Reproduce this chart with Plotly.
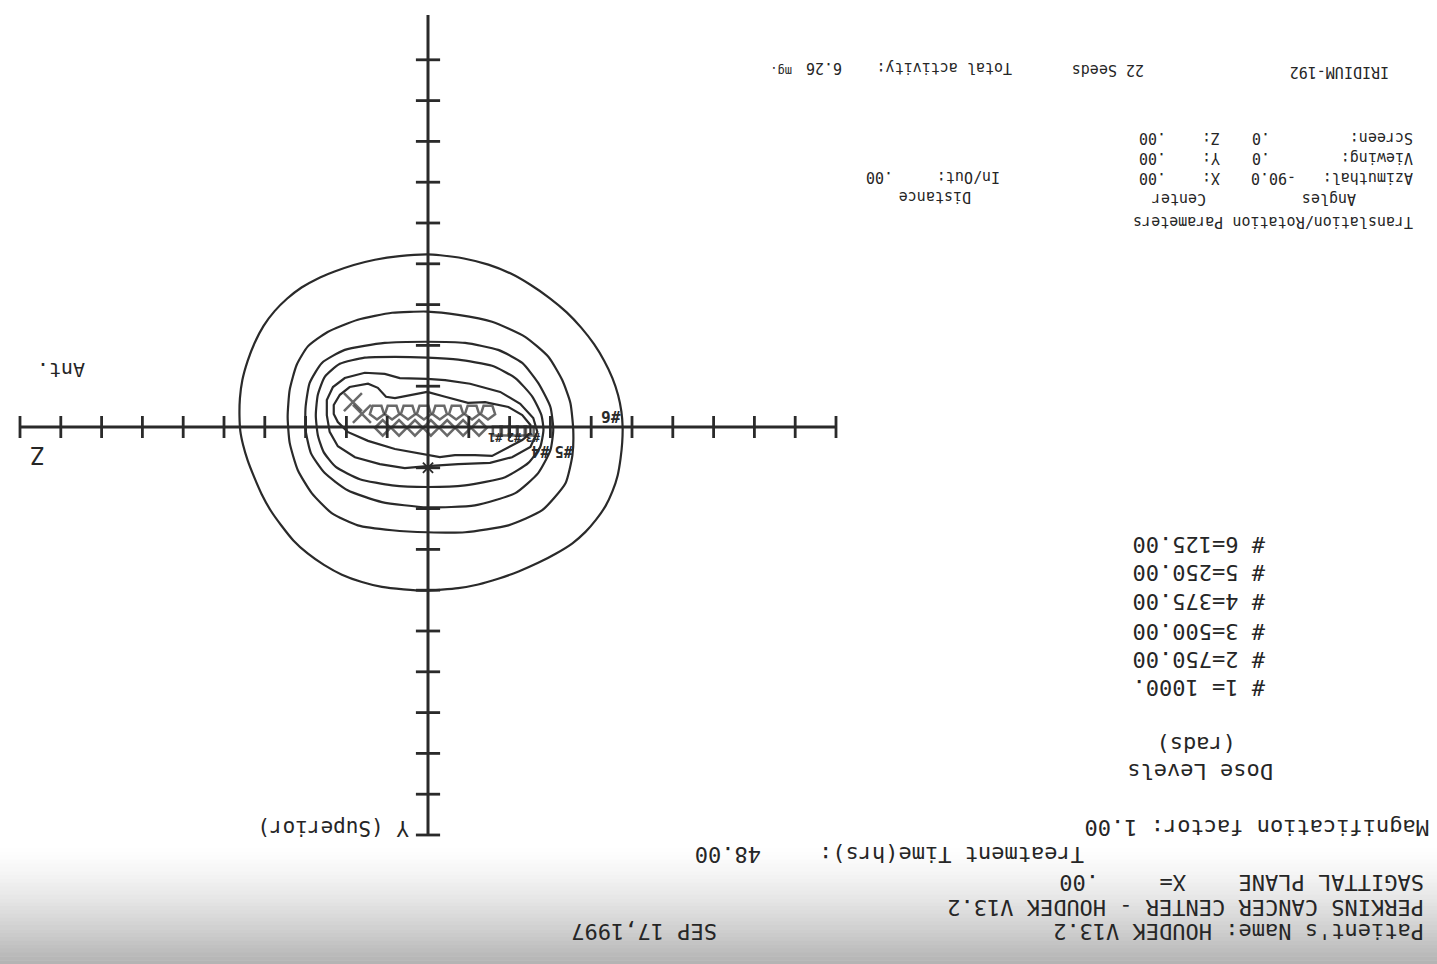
import plotly.graph_objects as go

W, H = 1437, 964

# ---------------- data (cm in the sagittal plane, X = .00) ----------------
dose_levels = [1000, 750, 500, 375, 250, 125]          # rads
level_text = ["# 1= 1000.", "# 2=750.00", "# 3=500.00",
              "# 4=375.00", "# 5=250.00", "# 6=125.00"]

# isodose curves, Z (cm) and Y (cm)
iso1000_z = [0.02, 0.44, 0.81, 1.03, 1.23, 1.47, 1.92, 2.16, 2.31, 2.31, 2.21, 1.97, 1.47, 0.81, 0.27,
             0.02, -0.29, -0.66, -1.15, -1.57, -2.01, -2.31, -2.51, -2.51, -2.31, -1.97, -1.40, -0.98,
             -0.42, 0.02]
iso1000_y = [-0.86, -0.79, -0.71, -0.74, -0.96, -1.06, -0.98, -0.79, -0.54, -0.32, -0.12, 0.12, 0.34,
             0.54, 0.64, 0.69, 0.74, 0.69, 0.69, 0.71, 0.49, 0.32, 0.15, -0.05, -0.29, -0.49, -0.61,
             -0.59, -0.74, -0.86]

iso750_z = [0.02, 0.69, 1.06, 1.55, 2.04, 2.33, 2.48, 2.48, 2.41, 2.21, 1.79, 1.18, 0.57, 0.02, -0.74,
            -1.52, -2.06, -2.51, -2.68, -2.58, -2.26, -1.77, -1.03, -0.42, 0.02]
iso750_y = [-1.18, -1.20, -1.30, -1.33, -1.20, -0.98, -0.66, -0.29, 0.12, 0.47, 0.74, 0.91, 1.01, 0.96,
            0.91, 0.88, 0.74, 0.49, 0.12, -0.22, -0.57, -0.86, -1.06, -1.15, -1.18]

iso500_z = [0.02, 0.81, 1.55, 2.16, 2.53, 2.70, 2.75, 2.70, 2.56, 2.26, 1.67, 0.88, 0.02, -0.91, -1.89,
            -2.46, -2.75, -2.83, -2.78, -2.56, -2.14, -1.57, -0.74, 0.02]
iso500_y = [-1.70, -1.72, -1.70, -1.55, -1.23, -0.79, -0.29, 0.20, 0.61, 0.98, 1.28, 1.43, 1.47, 1.43,
            1.23, 0.88, 0.49, 0.07, -0.29, -0.74, -1.20, -1.50, -1.65, -1.70]

iso375_z = [0.02, 1.06, 2.04, 2.60, 2.90, 3.00, 3.00, 2.87, 2.53, 1.97, 1.13, 0.02, -1.15, -2.14, -2.70,
            -3.00, -3.07, -3.00, -2.70, -2.31, -1.72, -0.91, 0.02]
iso375_y = [-2.09, -2.06, -1.89, -1.57, -1.08, -0.49, 0.07, 0.64, 1.13, 1.55, 1.84, 1.97, 1.92, 1.62,
            1.13, 0.57, 0.07, -0.49, -1.08, -1.57, -1.89, -2.06, -2.09]

iso250_z = [0.02, 0.88, 1.72, 2.46, 2.95, 3.22, 3.39, 3.44, 3.39, 3.19, 2.85, 2.36, 1.72, 0.88, 0.02,
            -0.91, -1.97, -2.80, -3.37, -3.54, -3.56, -3.49, -3.29, -2.95, -2.38, -1.57, -0.74, 0.02]
iso250_y = [-2.83, -2.80, -2.63, -2.33, -1.97, -1.52, -0.91, -0.25, 0.39, 1.06, 1.62, 2.11, 2.41, 2.53,
            2.58, 2.58, 2.41, 2.04, 1.38, 0.69, 0.07, -0.59, -1.15, -1.72, -2.21, -2.58, -2.75, -2.83]

iso125_z = [0.02, 0.70, 1.30, 1.82, 2.29, 2.72, 3.10, 3.45, 3.76, 4.03, 4.25, 4.42, 4.55, 4.61, 4.62,
            4.60, 4.53, 4.42, 4.26, 4.08, 3.86, 3.59, 3.30, 2.95, 2.55, 2.11, 1.62, 1.13, 0.60, 0.07,
            -0.74, -1.23, -1.72, -2.22, -2.70, -3.14, -3.54, -3.86, -4.12, -4.35, -4.52, -4.65, -4.72,
            -4.76, -4.77, -4.74, -4.66, -4.52, -4.32, -4.07, -3.76, -3.40, -2.98, -2.52, -2.03, -1.48,
            -0.88, -0.30, 0.02]
iso125_y = [-4.23, -4.19, -4.10, -3.97, -3.81, -3.63, -3.42, -3.15, -2.84, -2.48, -2.06, -1.62, -1.15,
            -0.70, -0.25, 0.10, 0.45, 0.82, 1.23, 1.64, 2.04, 2.42, 2.78, 3.10, 3.38, 3.62, 3.80, 3.92,
            3.98, 4.01, 3.95, 3.86, 3.72, 3.54, 3.33, 3.10, 2.85, 2.57, 2.27, 1.94, 1.58, 1.18, 0.77,
            0.38, 0.00, -0.38, -0.78, -1.20, -1.62, -2.03, -2.43, -2.81, -3.16, -3.48, -3.76, -3.98,
            -4.13, -4.21, -4.23]

# iridium-192 seeds (22)
seed_z = [1.84, 1.62, 1.25, 0.88, 0.49, 0.10, -0.29, -0.69, -1.08, -1.47,
          1.11, 0.71, 0.32, -0.07, -0.47, -0.86, -1.25, -1.70, -1.89, -2.09, -2.29, -2.48]
seed_y = [-0.61, -0.32, -0.37, -0.37, -0.37, -0.37, -0.37, -0.37, -0.37, -0.37,
          0.02, 0.02, 0.02, 0.02, 0.02, 0.02, 0.02, 0.10, 0.10, 0.10, 0.10, 0.10]
seed_symbol = ["x-thin-open"] * 2 + ["pentagon-open"] * 8 + ["diamond-open"] * 7 + ["square-open"] * 5

# curve labels placed along the Z axis
curve_tag = ["#1", "#2", "#3", "#4", "#5", "#6"]
tag_z = [-1.66, -2.11, -2.56, -2.75, -3.33, -4.49]
tag_y = [0.24, 0.24, 0.24, 0.59, 0.59, -0.27]
tag_size = [12, 12, 12, 15, 15, 16]

axis_ticks = list(range(-10, 11))

INK = "#2a2a2a"
UNIT = 40.8                 # pixels per cm on the printout
CX, CY = 428, 427           # pixel location of the origin

fig = go.Figure()

# ---------------- isodose curves ----------------
curves = [(iso1000_z, iso1000_y, "linear"), (iso750_z, iso750_y, "linear"),
          (iso500_z, iso500_y, "spline"), (iso375_z, iso375_y, "spline"),
          (iso250_z, iso250_y, "spline"), (iso125_z, iso125_y, "spline")]
for (cz, cy, shape), lvl in zip(curves, dose_levels):
    fig.add_trace(go.Scatter(x=cz, y=cy, mode="lines", name=f"{lvl} rads",
                             line=dict(color=INK, width=2.2, shape=shape, smoothing=0.55),
                             hoverinfo="skip"))

# ---------------- Z and Y axes with cm ticks ----------------
zmin, zmax = min(axis_ticks), max(axis_ticks)
fig.add_trace(go.Scatter(x=[zmax, zmin], y=[0, 0], mode="lines",
                         line=dict(color=INK, width=3), hoverinfo="skip"))
fig.add_trace(go.Scatter(x=[0, 0], y=[-10.1, zmax], mode="lines",
                         line=dict(color=INK, width=3), hoverinfo="skip"))
half = 11 / UNIT
tx, ty = [], []
for t in axis_ticks:
    if t == 0:
        continue
    tx += [t, t, None]
    ty += [-half, half, None]
    if t > -10:
        tx += [-half * 1.1, half * 1.1, None]
        ty += [t, t, None]
fig.add_trace(go.Scatter(x=tx, y=ty, mode="lines", line=dict(color=INK, width=2.8),
                         hoverinfo="skip"))

# ---------------- seeds ----------------
sizes = {"x-thin-open": 18, "pentagon-open": 15, "diamond-open": 12, "square-open": 9}
fig.add_trace(go.Scatter(
    x=seed_z, y=seed_y, mode="markers",
    marker=dict(symbol=seed_symbol, size=[sizes[s] for s in seed_symbol],
                angle=[180 if s == "pentagon-open" else 0 for s in seed_symbol],
                color=INK, line=dict(color=INK, width=2.5)),
    hoverinfo="skip"))
fig.add_trace(go.Scatter(x=[0.0], y=[1.0], mode="markers",
                         marker=dict(symbol="asterisk-open", size=12, color=INK,
                                     line=dict(color=INK, width=1.8)),
                         hoverinfo="skip"))

for tag, z, y, s in zip(curve_tag, tag_z, tag_y, tag_size):
    fig.add_annotation(x=z, y=y, xref="x", yref="y", text=f"<b>{tag}</b>", showarrow=False,
                       textangle=180, borderpad=0,
                       font=dict(family="DejaVu Sans Mono", size=s, color=INK))

# ---------------- printed text (sheet is upside down) ----------------
def note(text, xr, yc, size, anchor="right"):
    fig.add_annotation(x=xr / W, y=1 - yc / H, xref="paper", yref="paper", text=text,
                       showarrow=False, textangle=180, xanchor=anchor, yanchor="middle",
                       borderpad=0,
                       font=dict(family="DejaVu Sans Mono", size=size, color="#262626"))

BIG, SMALL = 22, 15
note("Patient's Name: HOUDEK V13.2", 1425, 932, BIG)
note("SEP 17,1997", 718, 932, BIG)
note("PERKINS CANCER CENTER - HOUDEK V13.2", 1425, 908, BIG)
note("SAGITTAL PLANE", 1425, 883, BIG)
note("X=", 1187, 883, BIG)
note(".00", 1100, 883, BIG)
note("Treatment Time(hrs):", 1085, 855, BIG)
note("48.00", 762, 855, BIG)
note("Magnification factor: 1.00", 1430, 828, BIG)

note("Dose Levels", 1200, 772, BIG, "center")
note("(rads)", 1197, 745, BIG, "center")
for txt, yc in zip(level_text, [688, 660, 632, 602, 573, 545]):
    note(txt, 1266, yc, BIG)

note("Y (Superior)", 410, 828, 21)
note("Z", 46, 455, 24)
note("Ant.", 86, 370, 20)

note("IRIDIUM-192", 1390, 72, SMALL)
note("22 Seeds", 1145, 70, SMALL)
note("Total activity:", 1013, 68, SMALL)
note("6.26", 843, 68, SMALL)
note("mg.", 793, 71, 12)

rows = [("Screen:", ".0", "Z:", 138), ("Viewing:", ".0", "Y:", 158), ("Azimuthal:", "-90.0", "X:", 178)]
for lab, ang, ax_, yc in rows:
    note(lab, 1414, yc, SMALL)
    note(ang, 1297 if ang.startswith("-") else 1271, yc, SMALL)
    note(ax_, 1221, yc, SMALL)
    note(".00", 1167, yc, SMALL)
note("In/Out:", 1001, 177, SMALL)
note(".00", 894, 177, SMALL)
note("Angles", 1357, 199, SMALL)
note("Center", 1207, 199, SMALL)
note("Distance", 972, 197, SMALL)
note("Translation/Rotation Parameters", 1414, 222, SMALL)

# ---------------- scanner shading along the lower edge ----------------
steps = 30
top, bottom = 848, H
for i in range(steps):
    f = (i + 1) / steps
    g = int(255 - 75 * f ** 1.4)
    y0 = top + (bottom - top) * i / steps
    y1 = top + (bottom - top) * (i + 1) / steps + 0.6
    fig.add_shape(type="rect", xref="paper", yref="paper", x0=0, x1=1,
                  y0=1 - y1 / H, y1=1 - y0 / H, line=dict(width=0),
                  fillcolor=f"rgb({g},{g},{g})", layer="below")

fig.update_layout(
    width=W, height=H, showlegend=False,
    margin=dict(l=0, r=0, t=0, b=0, pad=0),
    paper_bgcolor="white", plot_bgcolor="rgba(0,0,0,0)",
    xaxis=dict(range=[CX / UNIT, (CX - W) / UNIT], visible=False, showgrid=False,
               zeroline=False, fixedrange=True),
    yaxis=dict(range=[(H - CY) / UNIT, -CY / UNIT], visible=False, showgrid=False,
               zeroline=False, fixedrange=True),
)

fig.write_html("out.html")
